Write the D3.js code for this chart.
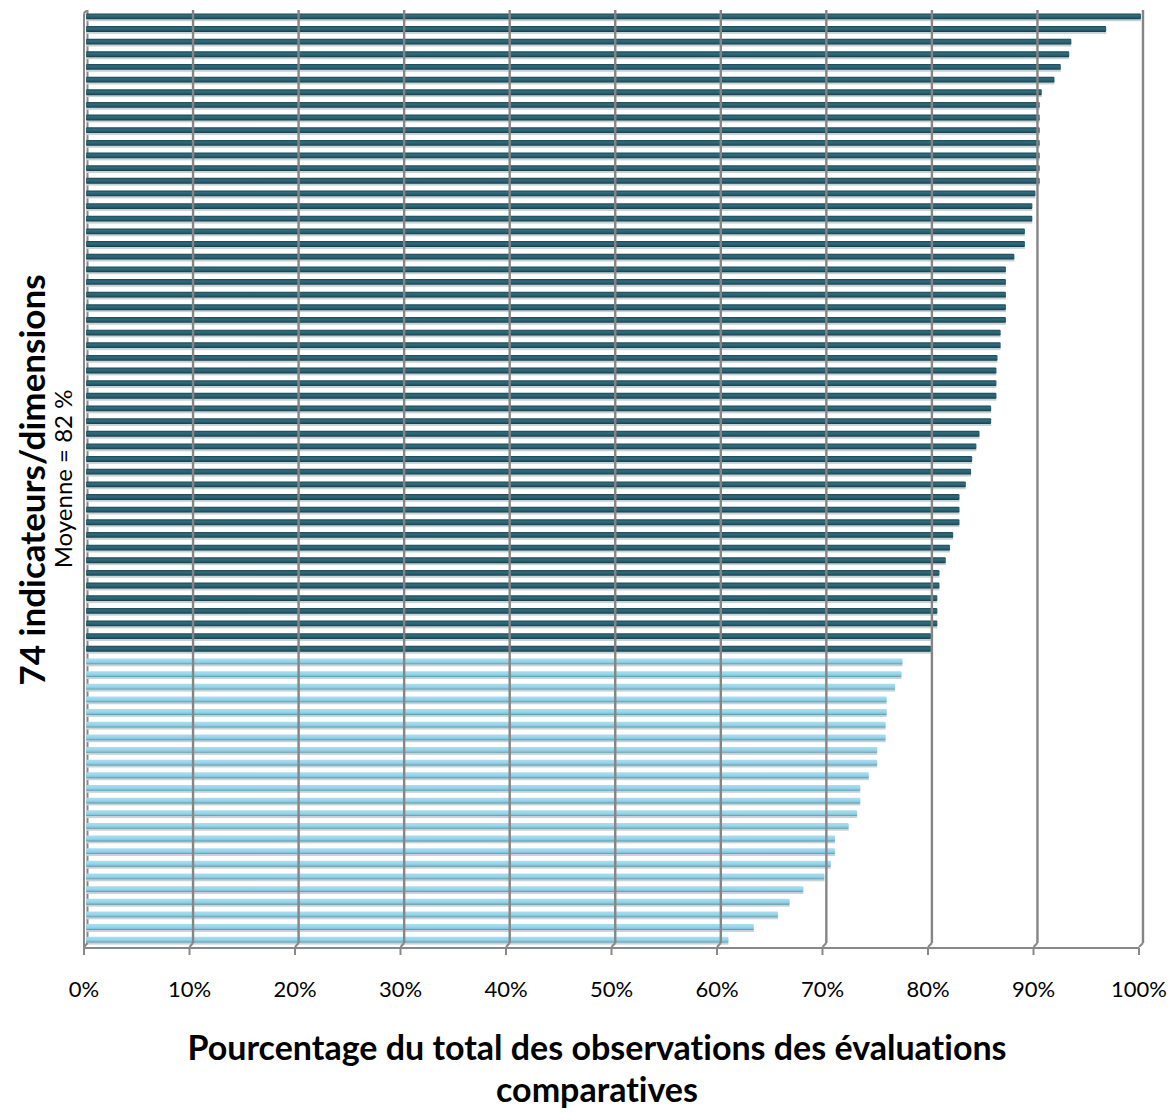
<!DOCTYPE html>
<html>
<head>
<meta charset="utf-8">
<script src="https://cdn.jsdelivr.net/npm/d3@7"></script>
<style>
  body { margin: 0; background: #fff; }
  svg { display: block; font-family: Lato, "Open Sans", sans-serif; font-variant-ligatures: none; }
</style>
</head>
<body>
<div id="chart"></div>
<script>
// share of total observations per indicator/dimension, sorted high to low
let values = [100.0, 96.7, 93.4, 93.2, 92.4, 91.8, 90.6, 90.4, 90.4, 90.4,
    90.4, 90.4, 90.4, 90.4, 90.0, 89.7, 89.7, 89.0, 89.0, 88.0,
    87.2, 87.2, 87.2, 87.2, 87.2, 86.7, 86.7, 86.4, 86.3, 86.3,
    86.3, 85.8, 85.8, 84.7, 84.4, 84.0, 83.9, 83.4, 82.8, 82.8,
    82.8, 82.2, 81.9, 81.5, 80.9, 80.9, 80.7, 80.7, 80.7, 80.1,
    80.1,
    77.4, 77.3, 76.7, 75.9, 75.9, 75.8, 75.8, 75.0, 75.0, 74.2,
    73.4, 73.4, 73.1, 72.3, 71.0, 71.0, 70.6, 70.0, 68.0, 66.7,
    65.6, 63.3, 60.9];
let threshold = 80;
let ticks = [0, 10, 20, 30, 40, 50, 60, 70, 80, 90, 100];
let yTitle = '74 indicateurs/dimensions';
let meanLabel = 'Moyenne = 82 %';
let xTitle = ['Pourcentage du total des observations des évaluations', 'comparatives'];

let width = 1175, height = 1112;

let svg = d3.select('#chart').append('svg')
    .attr('width', width)
    .attr('height', height);

let defs = svg.append('defs');
let gDark = defs.append('linearGradient').attr('id', 'dark')
    .attr('x1', 0).attr('x2', 0).attr('y1', 0).attr('y2', 1);
gDark.append('stop').attr('offset', '0%').attr('stop-color', '#1b4856');
gDark.append('stop').attr('offset', '35%').attr('stop-color', '#306c7c');
gDark.append('stop').attr('offset', '70%').attr('stop-color', '#265c6b');
gDark.append('stop').attr('offset', '100%').attr('stop-color', '#143b47');
let gLight = defs.append('linearGradient').attr('id', 'light')
    .attr('x1', 0).attr('x2', 0).attr('y1', 0).attr('y2', 1);
gLight.append('stop').attr('offset', '0%').attr('stop-color', '#a9def0');
gLight.append('stop').attr('offset', '45%').attr('stop-color', '#9ad6ea');
gLight.append('stop').attr('offset', '75%').attr('stop-color', '#86c6dc');
gLight.append('stop').attr('offset', '100%').attr('stop-color', '#4f93a8');

// back wall, front edge and bar plane (3d look)
let xBack = d3.scaleLinear().domain([0, 100]).range([87.5, 1143]);
let xFront = d3.scaleLinear().domain([0, 100]).range([84, 1139]);
let x = d3.scaleLinear().domain([0, 100]).range([86, 1141]);
let y = d3.scaleBand().domain(d3.range(values.length)).range([10, 946]).paddingInner(0.54).paddingOuter(0.27);

let wallTop = 11, wallBottom = 943, floorY = 948;

// left wall
svg.append('path')
    .attr('d', `M${xFront(0)},${floorY} L${xFront(0)},${wallTop + 4} Q${xFront(0)},${wallTop} ${xBack(0)},${wallTop} L${xBack(0)},${wallBottom}`)
    .attr('fill', 'none')
    .attr('stroke', '#888')
    .attr('stroke-width', 2);

// bars
let bars = svg.append('g');
bars.selectAll('rect.shadow')
    .data(values)
    .join('rect')
    .attr('class', 'shadow')
    .attr('x', x(0))
    .attr('y', (d, i) => y(i) + y.bandwidth() - 0.5)
    .attr('width', d => x(d) - x(0))
    .attr('height', 2.5)
    .attr('fill', '#c9d3d6');
bars.selectAll('rect.bar')
    .data(values)
    .join('rect')
    .attr('class', 'bar')
    .attr('x', x(0))
    .attr('y', (d, i) => y(i))
    .attr('width', d => x(d) - x(0))
    .attr('height', y.bandwidth())
    .attr('rx', 1.2)
    .attr('fill', d => d >= threshold ? 'url(#dark)' : 'url(#light)');

// vertical gridlines on the back wall
svg.append('g').selectAll('line')
    .data(ticks.slice(1))
    .join('line')
    .attr('x1', d => xBack(d))
    .attr('x2', d => xBack(d))
    .attr('y1', wallTop - 1)
    .attr('y2', wallBottom)
    .attr('stroke', '#858585')
    .attr('stroke-width', 2.4);

// floor edge with ticks
svg.append('g').selectAll('path')
    .data(ticks)
    .join('path')
    .attr('d', d => `M${xBack(d)},${wallBottom} L${xFront(d)},${floorY - 1}`)
    .attr('fill', 'none')
    .attr('stroke', '#888')
    .attr('stroke-width', 2);
svg.append('line')
    .attr('x1', xFront(0)).attr('x2', xFront(100))
    .attr('y1', floorY).attr('y2', floorY)
    .attr('stroke', '#888')
    .attr('stroke-width', 2);
svg.append('g').selectAll('line')
    .data(ticks)
    .join('line')
    .attr('x1', d => xFront(d)).attr('x2', d => xFront(d))
    .attr('y1', floorY).attr('y2', floorY + 7)
    .attr('stroke', '#888')
    .attr('stroke-width', 2);

// tick labels
svg.append('g').selectAll('text')
    .data(ticks)
    .join('text')
    .attr('x', d => xFront(d))
    .attr('y', 997)
    .attr('text-anchor', 'middle')
    .attr('font-size', 22)
    .attr('fill', '#000')
    .text(d => d + '%');

// axis titles
svg.append('text')
    .attr('transform', 'translate(45,480) rotate(-90)')
    .attr('text-anchor', 'middle')
    .attr('font-size', 35)
    .attr('font-weight', 'bold')
    .text(yTitle);
svg.append('text')
    .attr('transform', 'translate(72,479) rotate(-90)')
    .attr('text-anchor', 'middle')
    .attr('font-size', 24)
    .text(meanLabel);
svg.append('g').selectAll('text')
    .data(xTitle)
    .join('text')
    .attr('x', 597)
    .attr('y', (d, i) => 1060 + i * 42)
    .attr('text-anchor', 'middle')
    .attr('font-size', 34)
    .attr('font-weight', 'bold')
    .text(d => d);
</script>
</body>
</html>
